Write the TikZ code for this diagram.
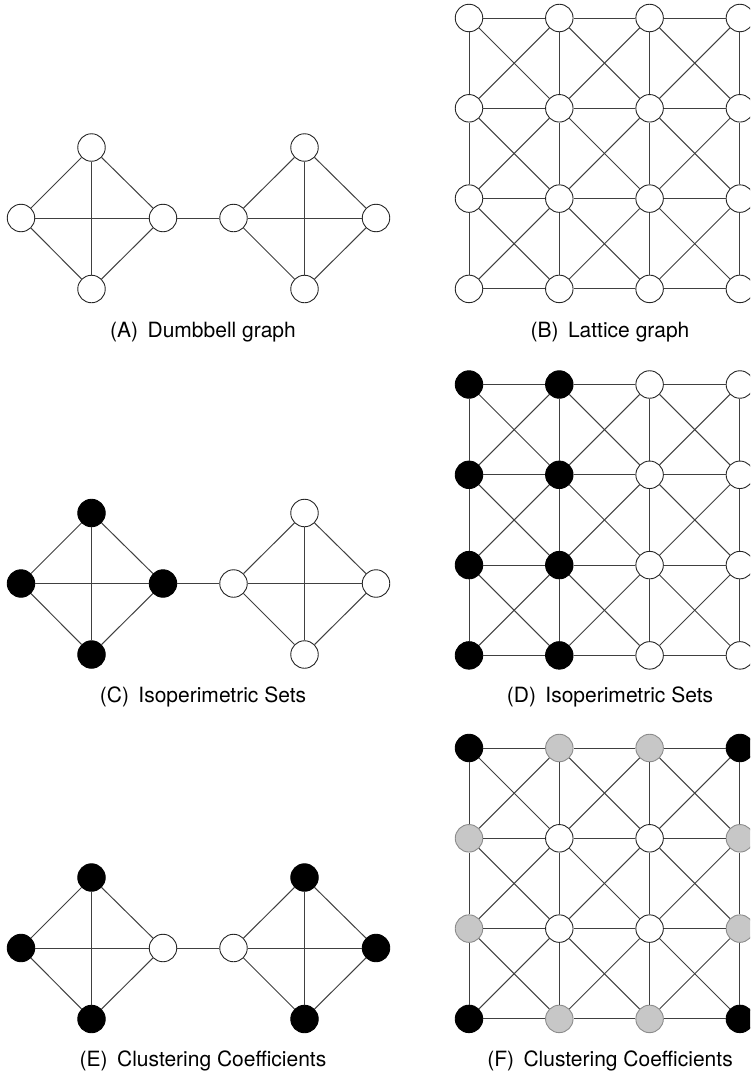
\documentclass[tikz,border=0pt]{standalone}
\usepackage{fontspec}
\setmainfont{TeX Gyre Heros}
\begin{document}
\begin{tikzpicture}[x=1pt,y=-1pt,
  edge/.style={draw=black!75, line width=1pt},
  vtx/.style={circle, draw=black!85, line width=0.9pt, inner sep=0pt, minimum size=27.5pt},
  wnode/.style={vtx, fill=white},
  bnode/.style={vtx, fill=black, draw=black},
  gnode/.style={vtx, fill=black!22, draw=black!45},
  caption/.style={anchor=base, font=\fontsize{21}{24}\selectfont, inner sep=0pt}]

\useasboundingbox (0,0) rectangle (750,1076);
\clip (0,0) rectangle (750,1076);

% ---------- dumbbell: two K4 cliques joined by one bridge ----------
% #1 prefix, #2 y of the middle row,
% #3 left, #4 top/bottom, #5 inner of the left clique,
% #6 inner, #7 top/bottom, #8 right of the right clique
\newcommand\dumbbell[8]{%
  \node[#3] (#1L)  at (21,#2) {};
  \node[#4] (#1T)  at (91.5,#2-70.5) {};
  \node[#4] (#1B)  at (91.5,#2+71) {};
  \node[#5] (#1R)  at (163,#2) {};
  \node[#6] (#1L2) at (233.5,#2) {};
  \node[#7] (#1T2) at (304.5,#2-70.5) {};
  \node[#7] (#1B2) at (304.5,#2+71) {};
  \node[#8] (#1R2) at (376,#2) {};
  \foreach \u/\v in {L/T,T/R,R/B,B/L,L/R,T/B,L2/T2,T2/R2,R2/B2,B2/L2,L2/R2,T2/B2,R/L2}
    \draw[edge] (#1\u) -- (#1\v);
}

% ---------- 4x4 king lattice ----------
% nodes are named <prefix><column>-<row>
\newcommand\latticeedges[1]{%
  \foreach \c [evaluate=\c as \n using int(\c+1)] in {1,2,3}{
    \foreach \r in {1,2,3,4}{
      \draw[edge] (#1\c-\r) -- (#1\n-\r);
      \draw[edge] (#1\r-\c) -- (#1\r-\n);
    }
    \foreach \r [evaluate=\r as \m using int(\r+1)] in {1,2,3}{
      \draw[edge] (#1\c-\r) -- (#1\n-\m);
      \draw[edge] (#1\n-\r) -- (#1\c-\m);
    }
  }
}

% (A) plain dumbbell
\dumbbell{A}{218}{wnode}{wnode}{wnode}{wnode}{wnode}{wnode}
\node[caption] (capA) at (203,337) {(A)\hspace{0.45em}Dumbbell graph};

% (C) isoperimetric split of the dumbbell
\dumbbell{C}{583.5}{bnode}{bnode}{bnode}{wnode}{wnode}{wnode}
\node[caption] (capC) at (203,702) {(C)\hspace{0.45em}Isoperimetric Sets};

% (E) clustering coefficients of the dumbbell
\dumbbell{E}{948}{bnode}{bnode}{wnode}{wnode}{bnode}{bnode}
\node[caption] (capE) at (203,1066) {(E)\hspace{0.45em}Clustering Coefficients};

% (B) plain lattice
\foreach \c in {1,...,4}{
  \foreach \r in {1,...,4}{
    \node[wnode] (B\c-\r) at ({469+90.3*(\c-1)},{18+90.3*(\r-1)}) {};
  }
}
\latticeedges{B}
\node[caption] (capB) at (610,337) {(B)\hspace{0.45em}Lattice graph};

% (D) isoperimetric split of the lattice: left half black
\foreach \c in {1,...,4}{
  \foreach \r in {1,...,4}{
    \ifnum\c<3 \def\fc{black}\def\dc{black}\else\def\fc{white}\def\dc{black!85}\fi
    \node[vtx, fill=\fc, draw=\dc] (D\c-\r) at ({469+90.3*(\c-1)},{384.5+90.3*(\r-1)}) {};
  }
}
\latticeedges{D}
\node[caption] (capD) at (610,702) {(D)\hspace{0.45em}Isoperimetric Sets};

% (F) clustering coefficients of the lattice: corners black, border grey, interior white
\foreach \c in {1,...,4}{
  \foreach \r in {1,...,4}{
    \pgfmathtruncatemacro\bc{(\c==1||\c==4)+(\r==1||\r==4)}
    \ifcase\bc \def\fc{white}\def\dc{black!85}\or
      \def\fc{black!22}\def\dc{black!45}\or
      \def\fc{black}\def\dc{black}\fi
    \node[vtx, fill=\fc, draw=\dc] (F\c-\r) at ({469+90.3*(\c-1)},{748+90.3*(\r-1)}) {};
  }
}
\latticeedges{F}
\node[caption] (capF) at (610,1066) {(F)\hspace{0.45em}Clustering Coefficients};

\end{tikzpicture}
\end{document}
